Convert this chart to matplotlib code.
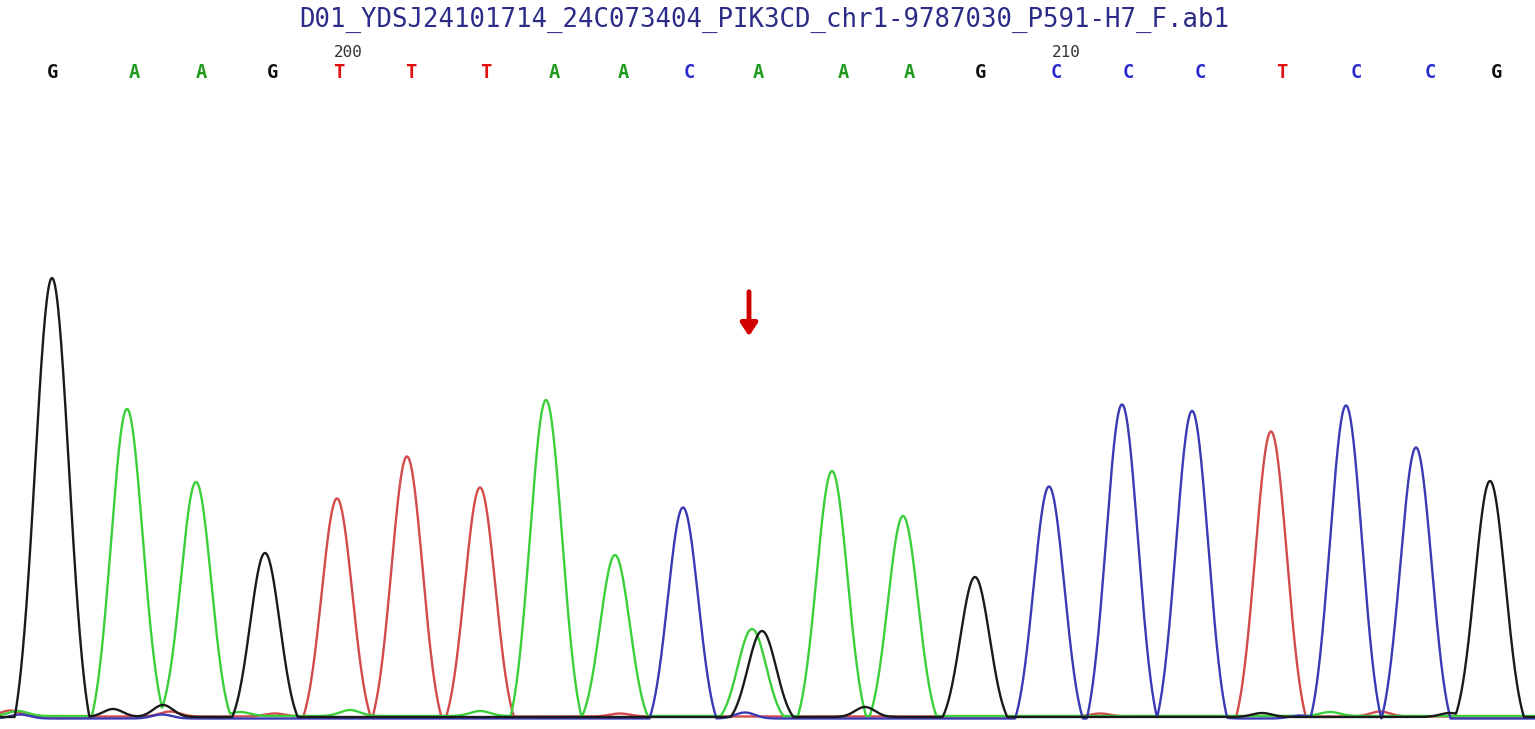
import numpy as np
import matplotlib
matplotlib.use("Agg")
import matplotlib.pyplot as plt

# ---- data ----
title = "D01_YDSJ24101714_24C073404_PIK3CD_chr1-9787030_P591-H7_F.ab1"

base_calls = ["G", "A", "A", "G", "T", "T", "T", "A", "A", "C", "A",
              "A", "A", "G", "C", "C", "C", "T", "C", "C", "G"]
base_call_pos = [52, 134, 201, 272, 339, 411, 486, 554, 623, 689, 758,
                 843, 909, 980, 1056, 1128, 1200, 1282, 1356, 1430, 1497]

index_labels = ["200", "210"]
index_label_pos = [348, 1066]

# main peaks per channel: (scan position, signal height)
peaks_G_pos = [52, 265, 762, 975, 1490]
peaks_G_h = [439, 164, 86, 140, 236]
peaks_A_pos = [127, 196, 546, 615, 752, 832, 903]
peaks_A_h = [307, 234, 316, 161, 87, 245, 200]
peaks_T_pos = [337, 407, 480, 1271]
peaks_T_h = [218, 260, 229, 285]
peaks_C_pos = [683, 1049, 1122, 1192, 1346, 1416]
peaks_C_h = [211, 232, 314, 307, 313, 271]

# small background bumps per channel
minor_G_pos = [113, 163, 865, 1262, 1450]
minor_G_h = [8, 12, 10, 4, 4]
minor_A_pos = [18, 160, 240, 350, 480, 1330]
minor_A_h = [5, 8, 4, 6, 5, 4]
minor_T_pos = [10, 170, 275, 620, 1380, 1100]
minor_T_h = [6, 5, 3, 3, 5, 3]
minor_C_pos = [20, 162, 745, 1210, 1300]
minor_C_h = [4, 4, 6, 3, 3]

mutation_pos = 749

# ---- styles ----
trace_colors = {"G": "#1a1a1a", "A": "#3ccf3c", "T": "#d24a4a", "C": "#3a3ab4"}
call_colors = {"G": "#111111", "A": "#1f9a1f", "T": "#e01010", "C": "#2a2ad0"}

W, H = 1535, 729
fig = plt.figure(figsize=(W / 100, H / 100), dpi=100)
ax = fig.add_axes([0, 0, 1, 1])
ax.set_xlim(0, W)
ax.set_ylim(-12, 717)
ax.axis("off")

x = np.arange(-60, W + 60, 0.5)


def peak_shape(d, w):
    """Baseline-subtracted Gaussian that reaches zero at |d| = w."""
    s = w / 2.2
    c = np.exp(-0.5 * (w / s) ** 2)
    return np.clip((np.exp(-0.5 * (d / s) ** 2) - c) / (1 - c), 0, None)


def trace(pos, h, mpos, mh):
    y = np.zeros_like(x)
    for p, a in zip(pos, h):
        w = 30 + a / 60.0
        y += a * peak_shape(x - p, w)
    for p, a in zip(mpos, mh):
        y += a * np.exp(-0.5 * ((x - p) / 10.0) ** 2)
    return y


channels = [
    ("T", peaks_T_pos, peaks_T_h, minor_T_pos, minor_T_h, 0.5),
    ("A", peaks_A_pos, peaks_A_h, minor_A_pos, minor_A_h, 1.0),
    ("C", peaks_C_pos, peaks_C_h, minor_C_pos, minor_C_h, -1.5),
    ("G", peaks_G_pos, peaks_G_h, minor_G_pos, minor_G_h, 0.0),
]
for name, pos, h, mpos, mh, off in channels:
    y = trace(pos, h, mpos, mh) + off
    ax.plot(x, y, color=trace_colors[name], lw=1.7, solid_joinstyle="round")

# base calls
for b, p in zip(base_calls, base_call_pos):
    ax.text(p, 645, b, color=call_colors[b], fontsize=13.5, fontweight="bold",
            family="DejaVu Sans Mono", ha="center", va="center")

# index labels
for t, p in zip(index_labels, index_label_pos):
    ax.text(p, 665, t, color="#333333", fontsize=11.5,
            family="DejaVu Sans Mono", ha="center", va="center")

# title
ax.text(764, 697, title, color="#2b2b88", fontsize=18.5,
        family="DejaVu Sans Mono", ha="center", va="center")

# mutation arrow
ax.annotate("", xy=(mutation_pos, 378), xytext=(mutation_pos, 428),
            arrowprops=dict(arrowstyle="-|>,head_length=0.75,head_width=0.5",
                            color="#d00000", lw=3.5))

fig.savefig("out.png", dpi=100)
